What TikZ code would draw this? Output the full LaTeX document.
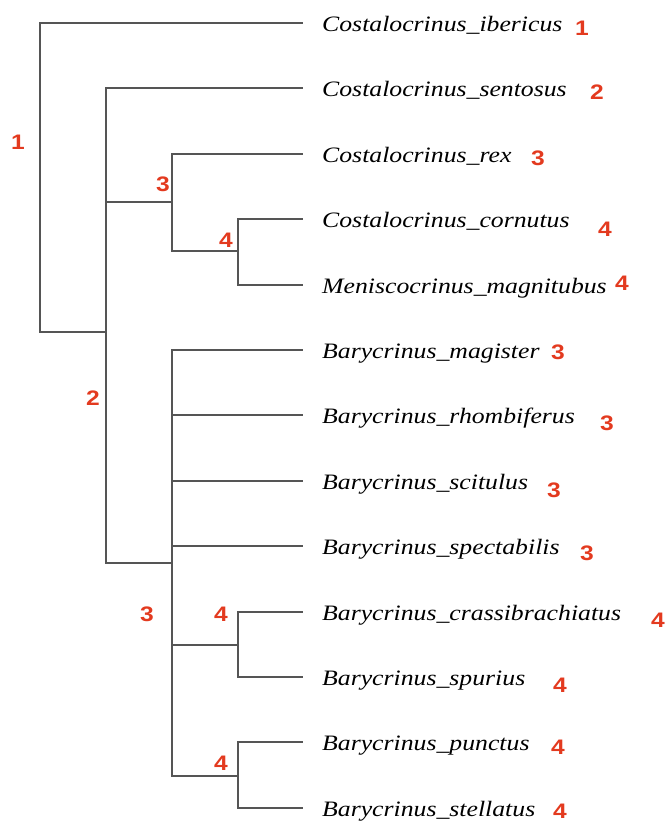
\documentclass[tikz,border=0pt]{standalone}
\usepackage{fontspec}
\newfontfamily\tipfont[FakeStretch=1.17]{Liberation Serif}
\newfontfamily\numfont[FakeStretch=1.17]{Liberation Sans}
\usetikzlibrary{positioning}
\definecolor{Branch}{HTML}{555555}
\definecolor{Num}{HTML}{E33A1F}

\begin{document}
\begin{tikzpicture}[x=1pt,y=-1pt,
  branch/.style={draw=Branch,line width=1.6pt},
  leaf/.style={inner sep=0pt,text height=1.3em,text depth=0pt,yshift=-2pt,font=\tipfont\itshape\fontsize{22}{24}\selectfont},
  num/.style={inner sep=0pt,text=Num,font=\numfont\bfseries\fontsize{21}{24}\selectfont}
]
\useasboundingbox (0,0) rectangle (666,823);
% tips, species names and their numbers
\foreach \i/\sp/\nx/\ny/\k in {
  1/Costalocrinus\_ibericus/582/28/1,
  2/Costalocrinus\_sentosus/597/92/2,
  3/Costalocrinus\_rex/538/158/3,
  4/Costalocrinus\_cornutus/605/229/4,
  5/Meniscocrinus\_magnitubus/622/283/4,
  6/Barycrinus\_magister/558/352/3,
  7/Barycrinus\_rhombiferus/607/423/3,
  8/Barycrinus\_scitulus/554/490/3,
  9/Barycrinus\_spectabilis/587/553/3,
  10/Barycrinus\_crassibrachiatus/658/620/4,
  11/Barycrinus\_spurius/560/685/4,
  12/Barycrinus\_punctus/558/747/4,
  13/Barycrinus\_stellatus/560/811/4}{
  \coordinate (t\i) at (303,{round(23+65.4*(\i-1))});
  \node[leaf,right=19pt of t\i] (s\i) {\sp};
  \node[num] (k\i) at (\nx,\ny) {\k};
}
% internal nodes
\coordinate (root) at (40,177);
\coordinate (all) at (106,332);
\coordinate (cost) at (172,202);
\coordinate (cornu) at (238,251);
\coordinate (bary) at (172,563);
\coordinate (crass) at (238,645);
\coordinate (punct) at (238,776);
\draw[branch] (root) |- (t1) (root) |- (all);
\draw[branch] (all) |- (t2) (all) |- (cost) (all) |- (bary);
\draw[branch] (cost) |- (t3) (cost) |- (cornu);
\draw[branch] (cornu) |- (t4) (cornu) |- (t5);
\draw[branch] (bary) |- (t6) (bary) |- (t7) (bary) |- (t8) (bary) |- (t9);
\draw[branch] (bary) |- (crass) (bary) |- (punct);
\draw[branch] (crass) |- (t10) (crass) |- (t11);
\draw[branch] (punct) |- (t12) (punct) |- (t13);
% clade numbers
\node[num] (l1) at (18,142) {1};
\node[num] (l2) at (93,398) {2};
\node[num] (l3a) at (163,184) {3};
\node[num] (l4a) at (226,240) {4};
\node[num] (l3b) at (147,614) {3};
\node[num] (l4b) at (221,614) {4};
\node[num] (l4c) at (221,763) {4};
\end{tikzpicture}
\end{document}
